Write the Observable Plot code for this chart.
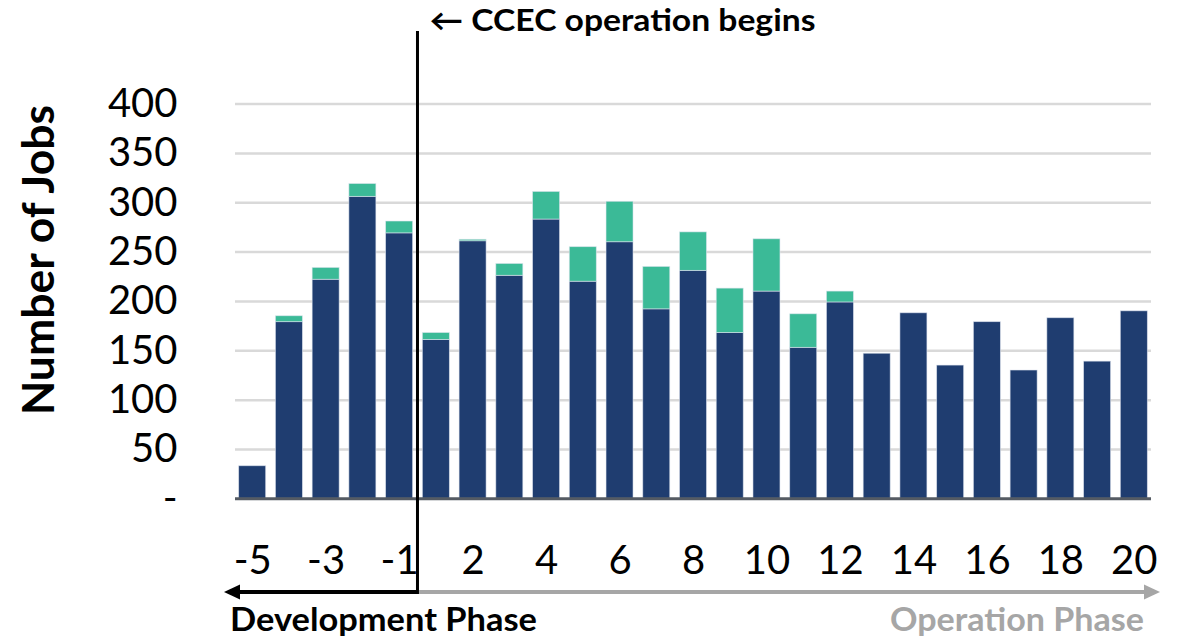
<!DOCTYPE html>
<html>
<head>
<meta charset="utf-8">
<script src="https://cdn.jsdelivr.net/npm/d3@7"></script>
<script src="https://cdn.jsdelivr.net/npm/@observablehq/plot@0.6"></script>
<style>
  html, body { margin: 0; padding: 0; background: #fff; }
  #chart svg { display: block; }
</style>
</head>
<body>
<div id="chart"></div>
<script>
// ---- data ----
const years = ["-5","-4","-3","-2","-1","1","2","3","4","5","6","7","8","9","10","11","12","13","14","15","16","17","18","19","20"];
const baseJobs  = [33,179,222,306,269,161,261,226,283,220,260,192,231,168,210,153,199,147,188,135,179,130,183,139,190];
const extraJobs = [0,6,12,13,12,7,1.5,12,28,35,41,43,39,45,53,34,11,0,0,0,0,0,0,0,0];
const seriesNames = ["Base", "Additional"];
const seriesColors = ["#1f3d70", "#3bba97"];
const yTicks = [0,50,100,150,200,250,300,350,400];
const xTickLabels = ["-5","-3","-1","2","4","6","8","10","12","14","16","18","20"];
const yTitle = "Number of Jobs";
const annotation = "\u2190 CCEC operation begins";
const devLabel = "Development Phase";
const opLabel = "Operation Phase";

const rows = [];
years.forEach((yr, i) => rows.push({year: yr, series: seriesNames[0], value: baseJobs[i]}));
years.forEach((yr, i) => rows.push({year: yr, series: seriesNames[1], value: extraJobs[i]}));

const W = 1182, H = 640;
const font = "Lato, 'Open Sans', sans-serif";

const chart = Plot.plot({
  width: W,
  height: H,
  marginLeft: 235,
  marginRight: 31,
  marginTop: 103.6,
  marginBottom: 141.7,
  style: {fontFamily: font, background: "#fff", color: "#000"},
  x: {domain: years, paddingInner: 0.265, paddingOuter: 0.1, round: false, label: null},
  y: {domain: [0, 400], label: null},
  color: {domain: seriesNames, range: seriesColors},
  marks: [
    Plot.gridY(yTicks.slice(1), {stroke: "#d9d9d9", strokeWidth: 2.5, strokeOpacity: 1}),
    Plot.barY(rows, Plot.stackY({x: "year", y: "value", fill: "series", stroke: "#dfe6ef", strokeWidth: 0.8, strokeOpacity: 0.7})),
    Plot.ruleY([0], {stroke: "#555b63", strokeWidth: 3}),
    Plot.axisY({ticks: yTicks, tickSize: 0, tickPadding: 58, fontSize: 40, fill: "#000",
                tickFormat: d => d === 0 ? "-" : String(d), label: null}),
    Plot.axisX({ticks: xTickLabels, tickSize: 0, tickPadding: 47, fontSize: 40, fill: "#000", label: null})
  ]
});

document.getElementById("chart").appendChild(chart);

// ---- annotations positioned from the x scale ----
const svg = d3.select(chart);
const xs = chart.scale("x");
const bw = xs.bandwidth, step = xs.step;
const xDivide = xs.apply("-1") + bw + (step - bw) / 2;
const arrowY = 592;

// vertical divider
svg.append("line")
  .attr("x1", xDivide).attr("x2", xDivide)
  .attr("y1", 31).attr("y2", arrowY + 2)
  .attr("stroke", "#000").attr("stroke-width", 3);

// development arrow (black, pointing left)
const devLeft = 224;
svg.append("line")
  .attr("x1", devLeft + 12).attr("x2", xDivide)
  .attr("y1", arrowY).attr("y2", arrowY)
  .attr("stroke", "#000").attr("stroke-width", 4);
svg.append("path")
  .attr("d", `M${devLeft},${arrowY} L${devLeft + 16},${arrowY - 7.5} L${devLeft + 16},${arrowY + 7.5} Z`)
  .attr("fill", "#000");

// operation arrow (grey, pointing right)
const opRight = 1160;
svg.append("line")
  .attr("x1", xDivide + 1.5).attr("x2", opRight - 12)
  .attr("y1", arrowY).attr("y2", arrowY)
  .attr("stroke", "#a6a6a6").attr("stroke-width", 4);
svg.append("path")
  .attr("d", `M${opRight},${arrowY} L${opRight - 16},${arrowY - 7.5} L${opRight - 16},${arrowY + 7.5} Z`)
  .attr("fill", "#a6a6a6");

// texts
function addText(x, y, str, size, fill, anchor, len) {
  const t = svg.append("text")
    .attr("x", x).attr("y", y)
    .attr("text-anchor", anchor)
    .attr("font-family", font).attr("font-weight", 700).attr("font-size", size)
    .attr("fill", fill).text(str);
  if (len) t.attr("textLength", len).attr("lengthAdjust", "spacingAndGlyphs");
  return t;
}
addText(xDivide + 12, 31, annotation, 30, "#000", "start", 386);
addText(230, 631, devLabel, 33, "#000", "start", 307);
addText(1144, 631, opLabel, 33, "#a6a6a6", "end", 254);

svg.append("text")
  .attr("transform", "translate(54,260) rotate(-90)")
  .attr("text-anchor", "middle")
  .attr("font-family", font).attr("font-weight", 700).attr("font-size", 43)
  .attr("textLength", 310).attr("lengthAdjust", "spacingAndGlyphs")
  .attr("fill", "#000").text(yTitle);
</script>
</body>
</html>
